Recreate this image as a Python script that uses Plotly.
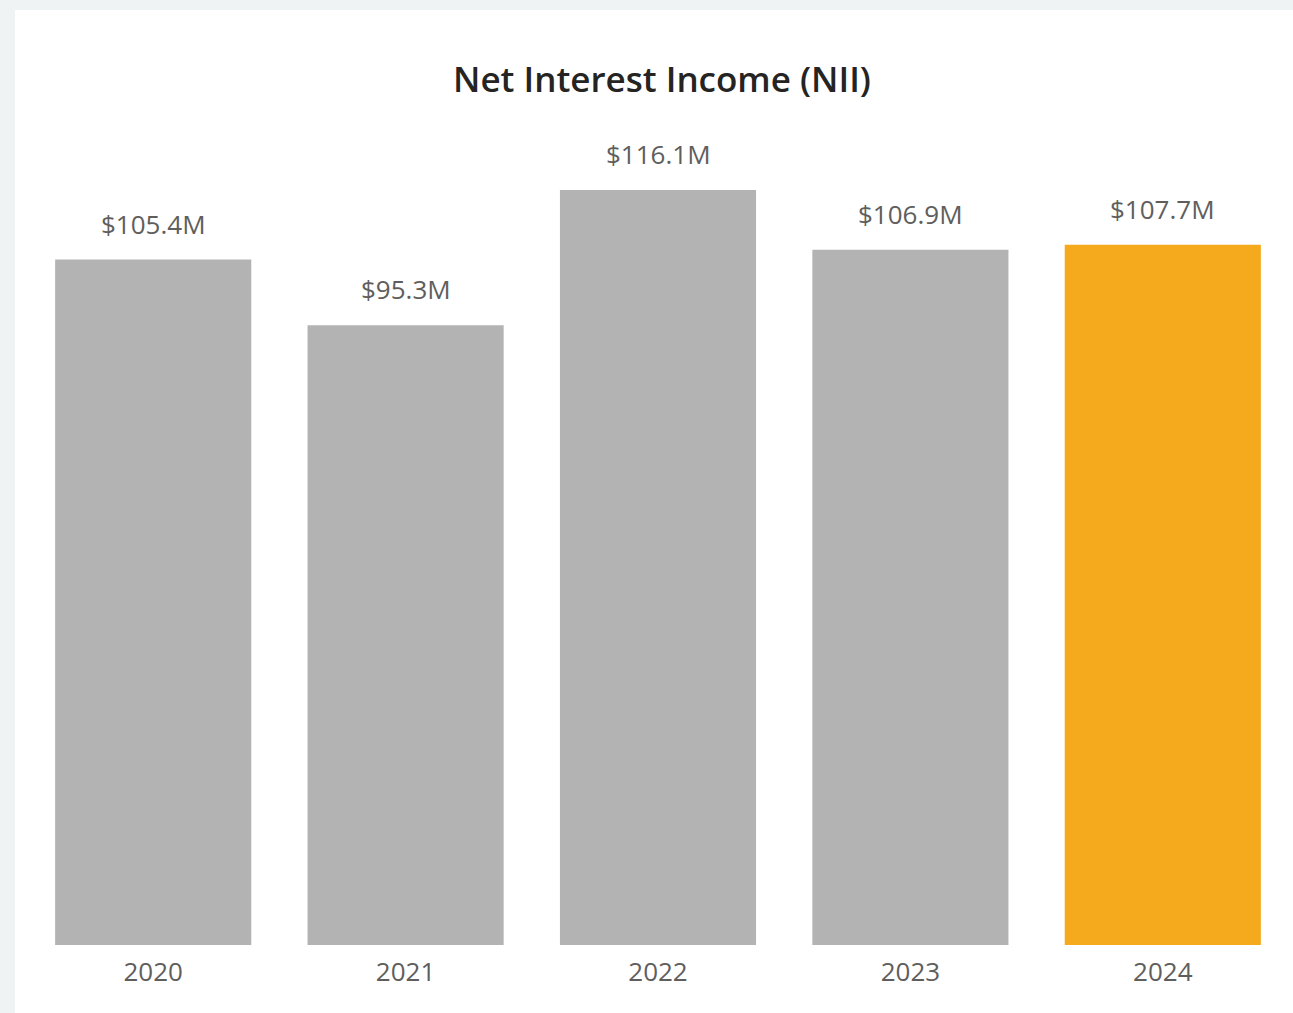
import plotly.graph_objects as go

# Net interest income by fiscal year, in millions of dollars
years = ["2020", "2021", "2022", "2023", "2024"]
nii_millions = [105.4, 95.3, 116.1, 106.9, 107.7]
highlight_year = "2024"

GRAY = "#B3B3B3"
ORANGE = "#F5A91D"
LABEL_COLOR = "#605E5C"
PAGE_BG = "#F0F3F4"

bar_colors = [ORANGE if y == highlight_year else GRAY for y in years]

fig = go.Figure(
    go.Bar(
        x=years,
        y=nii_millions,
        marker=dict(color=bar_colors, line=dict(width=0)),
        hovertemplate="%{x}: $%{y:.1f}M<extra></extra>",
    )
)

# value labels above each bar (category index keeps them on their bar)
for i, v in enumerate(nii_millions):
    fig.add_annotation(
        x=i, y=v, text=f"${v:.1f}M", showarrow=False,
        yanchor="bottom", yshift=16,
        font=dict(family="Open Sans", size=26, color=LABEL_COLOR),
    )

W, H = 1293, 1013
m_l, m_r, m_t, m_b = 27, 4, 130, 68
plot_w = W - m_l - m_r
plot_h = H - m_t - m_b

# white card on the light page background
fig.add_shape(
    type="rect", xref="paper", yref="paper", layer="below",
    x0=(15 - m_l) / plot_w, x1=(W + 5 - m_l) / plot_w,
    y0=-(H + 5 - (H - m_b)) / plot_h, y1=((H - m_b) - 10) / plot_h,
    fillcolor="white", line=dict(width=0),
)

fig.update_layout(
    width=W, height=H, autosize=False,
    margin=dict(l=m_l, r=m_r, t=m_t, b=m_b),
    paper_bgcolor=PAGE_BG,
    plot_bgcolor="rgba(0,0,0,0)",
    bargap=0.223,
    showlegend=False,
    title=dict(
        text="Net Interest Income (NII)",
        xref="container", x=662 / W, xanchor="center",
        yref="container", y=1 - 80 / H, yanchor="middle",
        font=dict(family="Open Sans", size=35, weight=600, color="#252423"),
    ),
    xaxis=dict(
        type="category",
        range=[-0.5, len(years) - 0.5],
        automargin=False,
        showgrid=False, zeroline=False, showline=False, ticks="",
        ticklabelstandoff=9,
        tickfont=dict(family="Open Sans", size=26, color=LABEL_COLOR),
    ),
    yaxis=dict(
        range=[0, 125.33], visible=False, showgrid=False, zeroline=False,
    ),
)

fig.write_html("out.html")
